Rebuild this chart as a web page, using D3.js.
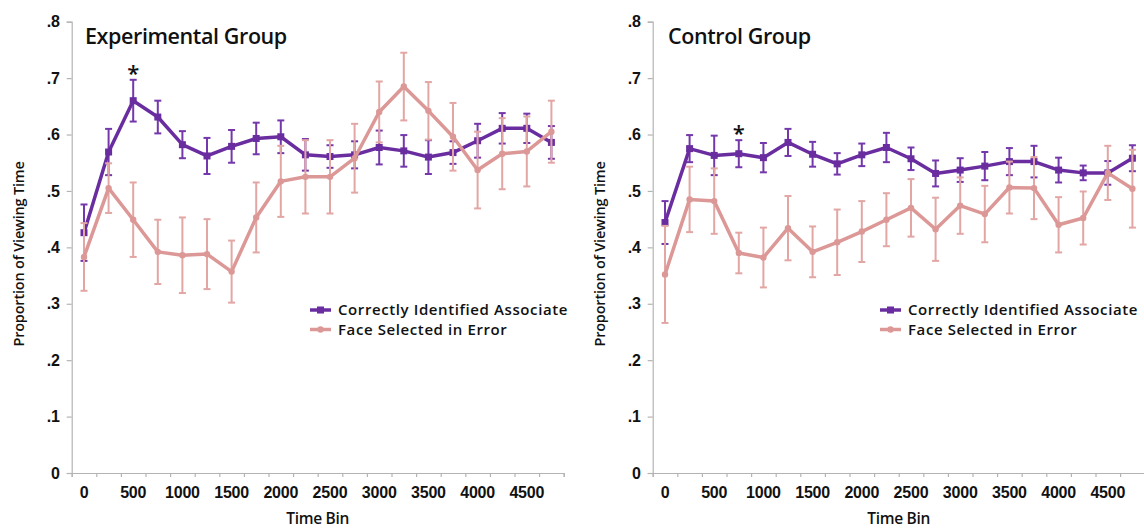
<!DOCTYPE html>
<html>
<head>
<meta charset="utf-8">
<script src="https://cdn.jsdelivr.net/npm/d3@7"></script>
<style>
  body { margin: 0; background: #fff; }
  svg { display: block; font-family: "Open Sans", "Noto Sans", sans-serif; }
</style>
</head>
<body>
<div class="content-container"></div>
<script>
    // DATA
    const timeBins = ["0", "250", "500", "750", "1000", "1250", "1500", "1750", "2000", "2250",
                      "2500", "2750", "3000", "3250", "3500", "3750", "4000", "4250", "4500", "4750"];
    const tickLabels = ["0", "500", "1000", "1500", "2000", "2500", "3000", "3500", "4000", "4500"];
    const yTicks = [0, 0.1, 0.2, 0.3, 0.4, 0.5, 0.6, 0.7, 0.8];
    const yTickLabels = ["0", ".1", ".2", ".3", ".4", ".5", ".6", ".7", ".8"];
    const seriesNames = ["Correctly Identified Associate", "Face Selected in Error"];

    const expCorrect = [0.426, 0.569, 0.660, 0.631, 0.582, 0.562, 0.579, 0.593, 0.596, 0.564,
                        0.561, 0.564, 0.577, 0.571, 0.560, 0.568, 0.589, 0.611, 0.611, 0.586];
    const expCorrectErr = [0.050, 0.041, 0.037, 0.029, 0.024, 0.032, 0.029, 0.028, 0.029, 0.028,
                           0.020, 0.024, 0.030, 0.028, 0.030, 0.020, 0.030, 0.027, 0.026, 0.029];
    const expError = [0.383, 0.505, 0.449, 0.392, 0.386, 0.388, 0.357, 0.453, 0.517, 0.525,
                      0.525, 0.558, 0.640, 0.685, 0.642, 0.596, 0.537, 0.566, 0.570, 0.605];
    const expErrorErr = [0.060, 0.044, 0.066, 0.057, 0.067, 0.062, 0.055, 0.062, 0.063, 0.065,
                         0.065, 0.061, 0.054, 0.060, 0.051, 0.060, 0.068, 0.063, 0.062, 0.055];

    const ctlCorrect = [0.444, 0.575, 0.563, 0.566, 0.559, 0.586, 0.565, 0.548, 0.564, 0.577,
                        0.557, 0.531, 0.537, 0.544, 0.552, 0.552, 0.537, 0.532, 0.532, 0.558];
    const ctlCorrectErr = [0.038, 0.024, 0.035, 0.024, 0.026, 0.024, 0.022, 0.019, 0.020, 0.026,
                           0.020, 0.023, 0.021, 0.025, 0.024, 0.028, 0.022, 0.013, 0.021, 0.023];
    const ctlError = [0.352, 0.485, 0.482, 0.390, 0.382, 0.434, 0.392, 0.409, 0.428, 0.449,
                      0.470, 0.432, 0.474, 0.459, 0.506, 0.505, 0.440, 0.452, 0.532, 0.504];
    const ctlErrorErr = [0.086, 0.058, 0.058, 0.036, 0.053, 0.057, 0.045, 0.058, 0.054, 0.047,
                         0.051, 0.056, 0.050, 0.050, 0.046, 0.055, 0.049, 0.047, 0.048, 0.069];

    const colors = ["#6a2da0", "#dc9896"];
    const barColors = ["#7438ab", "#e2a6a4"];

    const width = 1144;
    const height = 529;

    const panels = [
      { title: "Experimental Group", left: 71.7, titleX: 85, legendX: 310, star: "500",
        series: [[expCorrect, expCorrectErr], [expError, expErrorErr]] },
      { title: "Control Group", left: 652.7, titleX: 668, legendX: 880, star: "750",
        series: [[ctlCorrect, ctlCorrectErr], [ctlError, ctlErrorErr]] }
    ];

    const plotWidth = 492;
    const yTop = 21.7;
    const yBottom = 473;

    const svg = d3.select(".content-container")
                  .append("svg")
                  .attr("width", width)
                  .attr("height", height);

    const yScale = d3.scaleLinear()
                     .domain([0, 0.8])
                     .range([yBottom, yTop]);

    panels.forEach(function(p) {
      const xScale = d3.scaleBand()
                       .domain(timeBins)
                       .range([p.left, p.left + plotWidth]);
      const xTicks = d3.scaleLinear()
                       .domain([0, timeBins.length])
                       .range([p.left, p.left + plotWidth]);
      const cx = (d) => xScale(d) + xScale.bandwidth() / 2;

      const g = svg.append("g");

      //AXES
      const yAxis = d3.axisLeft(yScale)
                      .tickValues(yTicks)
                      .tickSize(5)
                      .tickPadding(7)
                      .tickFormat((d, i) => yTickLabels[i]);
      const gy = g.append("g")
        .attr("transform", "translate(" + p.left + ",0)")
        .call(yAxis);

      const xAxis = d3.axisBottom(xTicks)
                      .tickValues(d3.range(timeBins.length + 1))
                      .tickSize(4)
                      .tickFormat("");
      const gx = g.append("g")
        .attr("transform", "translate(0," + yBottom + ")")
        .call(xAxis);

      const xLabels = d3.axisBottom(xScale)
                        .tickValues(tickLabels)
                        .tickSize(0)
                        .tickPadding(14);
      const gl = g.append("g")
        .attr("transform", "translate(0," + yBottom + ")")
        .call(xLabels);
      gl.select(".domain").remove();

      [gy, gx].forEach(function(a) {
        a.selectAll(".domain, line").attr("stroke", "#b4b4b4").attr("stroke-width", 1.2);
      });
      [gy, gl].forEach(function(a) {
        a.selectAll("text")
          .attr("fill", "#111")
          .style("font-size", "16px")
          .style("font-weight", "600")
          .style("letter-spacing", "-0.2px");
      });

      g.append("text")
        .attr("x", p.left + plotWidth / 2)
        .attr("y", 524)
        .attr("text-anchor", "middle")
        .attr("fill", "#111")
        .style("font-size", "15.5px")
        .style("font-weight", "600")
        .style("letter-spacing", "-0.3px")
        .text("Time Bin");

      g.append("text")
        .attr("transform", "translate(" + (p.left - 48) + "," + 254 + ") rotate(-90)")
        .attr("text-anchor", "middle")
        .attr("fill", "#111")
        .style("font-size", "14.5px")
        .style("font-weight", "600")
        .style("letter-spacing", "-0.2px")
        .text("Proportion of Viewing Time");

      //TITLE
      g.append("text")
        .attr("x", p.titleX)
        .attr("y", 44)
        .attr("fill", "#111")
        .style("font-size", "21.5px")
        .style("font-weight", "600")
        .style("letter-spacing", "-0.4px")
        .text(p.title);

      //SERIES
      p.series.forEach(function(s, k) {
        const vals = s[0];
        const errs = s[1];
        const pts = timeBins.map((b, i) => ({ bin: b, v: vals[i], e: errs[i] }));

        const bars = g.append("g")
          .attr("stroke", barColors[k])
          .attr("stroke-width", 2)
          .selectAll("g")
          .data(pts)
          .enter()
          .append("g");
        bars.append("line")
          .attr("x1", (d) => cx(d.bin))
          .attr("x2", (d) => cx(d.bin))
          .attr("y1", (d) => yScale(d.v + d.e))
          .attr("y2", (d) => yScale(d.v - d.e));
        bars.append("line")
          .attr("x1", (d) => cx(d.bin) - 3.5)
          .attr("x2", (d) => cx(d.bin) + 3.5)
          .attr("y1", (d) => yScale(d.v + d.e))
          .attr("y2", (d) => yScale(d.v + d.e));
        bars.append("line")
          .attr("x1", (d) => cx(d.bin) - 3.5)
          .attr("x2", (d) => cx(d.bin) + 3.5)
          .attr("y1", (d) => yScale(d.v - d.e))
          .attr("y2", (d) => yScale(d.v - d.e));

        const line = d3.line()
          .x((d) => cx(d.bin))
          .y((d) => yScale(d.v));

        g.append("path")
          .datum(pts)
          .attr("fill", "none")
          .attr("stroke", colors[k])
          .attr("stroke-width", 3.5)
          .attr("stroke-linejoin", "round")
          .attr("d", line);

        if (k === 0) {
          g.selectAll(null)
            .data(pts)
            .enter()
            .append("rect")
            .attr("x", (d) => cx(d.bin) - 3.5)
            .attr("y", (d) => yScale(d.v) - 3.5)
            .attr("width", 7)
            .attr("height", 7)
            .attr("fill", colors[k]);
        } else {
          g.selectAll(null)
            .data(pts)
            .enter()
            .append("circle")
            .attr("cx", (d) => cx(d.bin))
            .attr("cy", (d) => yScale(d.v))
            .attr("r", 3.2)
            .attr("fill", colors[k]);
        }
      });

      //SIGNIFICANCE STAR
      const si = timeBins.indexOf(p.star);
      const sv = p.series[0][0][si] + p.series[0][1][si];
      g.append("text")
        .attr("x", cx(p.star))
        .attr("y", yScale(sv) + 1)
        .attr("text-anchor", "middle")
        .attr("fill", "#111")
        .style("font-size", "22px")
        .style("font-weight", "600")
        .text("*");

      //LEGEND
      const legend = g.selectAll(".legend")
        .data(seriesNames)
        .enter()
        .append("g")
        .attr("transform", (d, i) => "translate(" + p.legendX + "," + (310 + i * 19.5) + ")");
      legend.append("line")
        .attr("x1", 0)
        .attr("x2", 21)
        .attr("stroke", (d, i) => colors[i])
        .attr("stroke-width", 3.5);
      legend.filter((d, i) => i === 0)
        .append("rect")
        .attr("x", 7)
        .attr("y", -3.5)
        .attr("width", 7)
        .attr("height", 7)
        .attr("fill", colors[0]);
      legend.filter((d, i) => i === 1)
        .append("circle")
        .attr("cx", 10.5)
        .attr("r", 3.2)
        .attr("fill", colors[1]);
      legend.append("text")
        .attr("x", 28)
        .attr("dy", "0.35em")
        .attr("fill", "#111")
        .style("font-size", "15px")
        .style("font-weight", "600")
        .style("letter-spacing", "0.6px")
        .text((d) => d);
    });
</script>
</body>
</html>
